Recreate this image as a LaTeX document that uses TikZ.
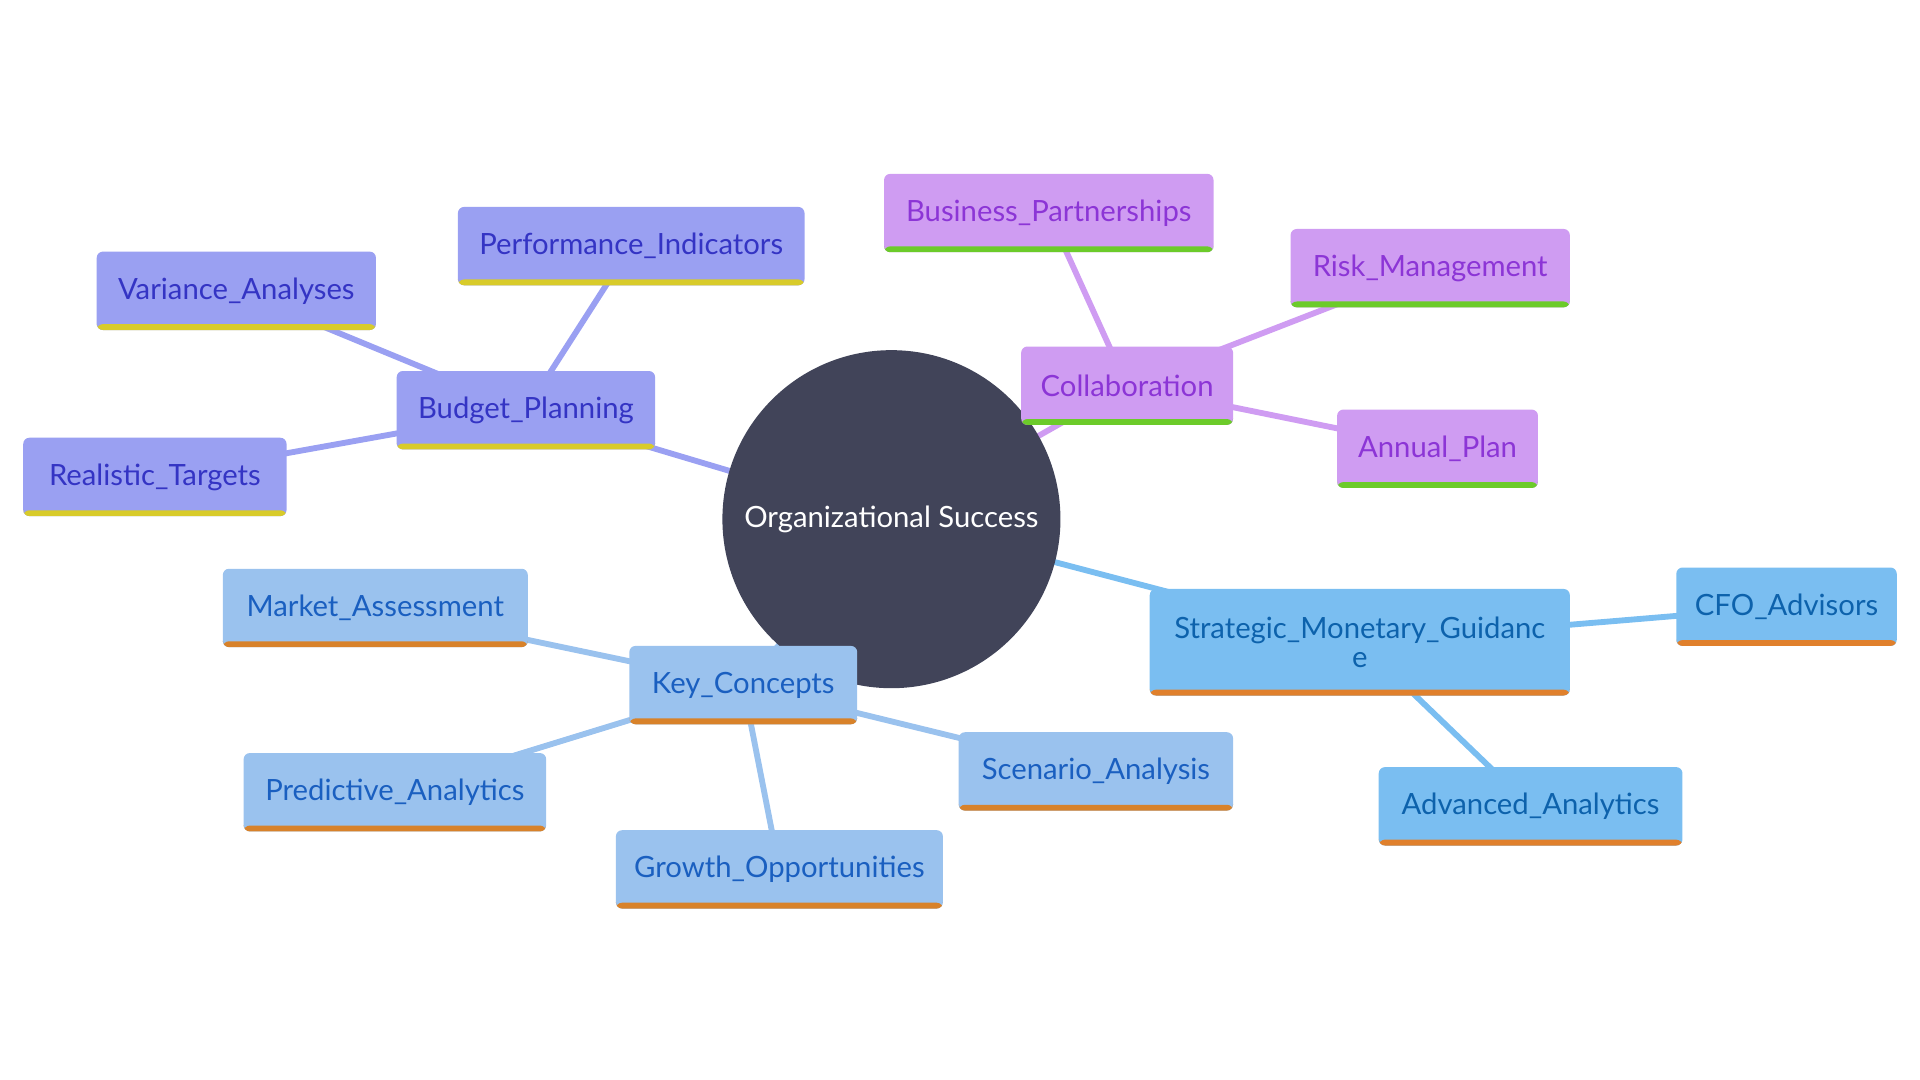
\documentclass[tikz,border=0pt]{standalone}
\usepackage{fontspec}
\setmainfont{Lato}
\usetikzlibrary{backgrounds}

\definecolor{hubfill}{HTML}{414459}
\definecolor{budgetfill}{HTML}{9AA0F2}
\definecolor{budgettext}{HTML}{3434C4}
\definecolor{budgetbar}{HTML}{D8CB2A}
\definecolor{collabfill}{HTML}{CF9CF2}
\definecolor{collabtext}{HTML}{8C35D6}
\definecolor{collabbar}{HTML}{6CCB2A}
\definecolor{guidefill}{HTML}{7ABEF1}
\definecolor{guidetext}{HTML}{0D62AC}
\definecolor{guidebar}{HTML}{E0802C}
\definecolor{conceptfill}{HTML}{9AC2EE}
\definecolor{concepttext}{HTML}{1A5FC0}
\definecolor{conceptbar}{HTML}{D8822A}

\tikzset{
  topic/.style={rectangle, rounded corners=1.8pt, inner sep=0pt, align=center,
    minimum height=64*0.125mm},
  wd/.style={minimum width=#1*0.125mm},
  bar/.style={path picture={\fill[#1] (path picture bounding box.south west)
    rectangle ([yshift=1.7pt]path picture bounding box.south east);}},
  budget/.style={topic, fill=budgetfill, text=budgettext, bar=budgetbar},
  collab/.style={topic, fill=collabfill, text=collabtext, bar=collabbar},
  guide/.style={topic, fill=guidefill, text=guidetext, bar=guidebar},
  concept/.style={topic, fill=conceptfill, text=concepttext, bar=conceptbar},
  hub/.style={circle, fill=hubfill, text=white, inner sep=0pt, minimum size=276*0.125mm},
  link/.style={line width=1.7pt}
}

\begin{document}
\begin{tikzpicture}[x=0.0125cm, y=-0.0125cm, font=\fontsize{8.5pt}{8.6pt}\selectfont]
\useasboundingbox (0,0) rectangle (1568,882);

\node[hub] (hub) at (728,424) {Organizational Success};

% budget branch
\node[budget, wd=211] (budget) at (429.5,335) {Budget\_Planning};
\node[budget, wd=283] (perf) at (515.5,201) {Performance\_Indicators};
\node[budget, wd=228] (variance) at (193,237.5) {Variance\_Analyses};
\node[budget, wd=215] (targets) at (126.5,389.5) {Realistic\_Targets};

% collaboration branch
\node[collab, wd=173] (collab) at (920.5,315) {Collaboration};
\node[collab, wd=269] (partners) at (856.5,174) {Business\_Partnerships};
\node[collab, wd=228] (risk) at (1168,219) {Risk\_Management};
\node[collab, wd=164] (annual) at (1174,366.5) {Annual\_Plan};

% guidance branch
\node[guide, wd=343, minimum height=87*0.125mm] (guidance) at (1110.5,524.5) {Strategic\_Monetary\_Guidanc\\e};
\node[guide, wd=180] (cfo) at (1459,495.5) {CFO\_Advisors};
\node[guide, wd=248] (advanced) at (1250,658.5) {Advanced\_Analytics};

% concepts branch
\node[concept, wd=186] (concepts) at (607,559.5) {Key\_Concepts};
\node[concept, wd=249] (market) at (306.5,496.5) {Market\_Assessment};
\node[concept, wd=247] (predictive) at (322.5,647) {Predictive\_Analytics};
\node[concept, wd=267] (growth) at (636.5,710) {Growth\_Opportunities};
\node[concept, wd=224] (scenario) at (895,630) {Scenario\_Analysis};

\begin{scope}[on background layer]
\foreach \a/\b/\c in {hub/budget/budgetfill, budget/perf/budgetfill,
    budget/variance/budgetfill, budget/targets/budgetfill,
    hub/collab/collabfill, collab/partners/collabfill,
    collab/risk/collabfill, collab/annual/collabfill,
    hub/guidance/guidefill, guidance/cfo/guidefill, guidance/advanced/guidefill,
    hub/concepts/conceptfill, concepts/market/conceptfill,
    concepts/predictive/conceptfill, concepts/growth/conceptfill,
    concepts/scenario/conceptfill}
  \draw[link, draw=\c] (\a.center) -- (\b.center);
\end{scope}
\end{tikzpicture}
\end{document}
